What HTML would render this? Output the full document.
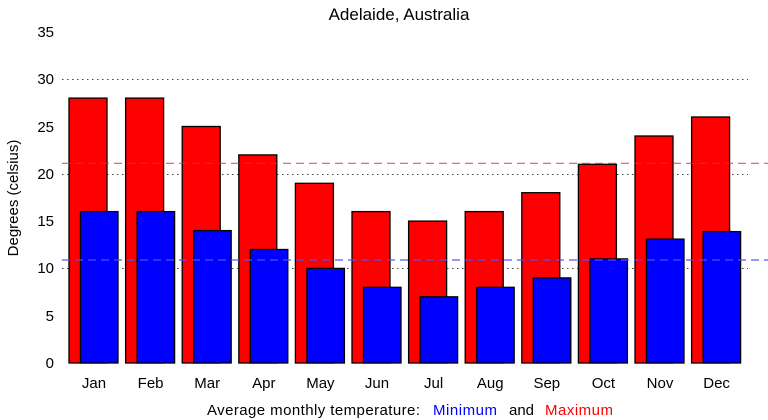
<!DOCTYPE html>
<html><head><style>body{margin:0;background:#fff}svg{display:block}text{font-family:"Liberation Sans",Arial,sans-serif;fill:#000}</style></head><body>
<svg width="768" height="420" xmlns="http://www.w3.org/2000/svg">
<text x="399" y="20" font-size="17" text-anchor="middle">Adelaide, Australia</text>
<g stroke="#444" stroke-width="1" stroke-dasharray="1.5,3.5">
<line x1="62" y1="79.5" x2="748" y2="79.5"/><line x1="62" y1="174.5" x2="748" y2="174.5"/><line x1="62" y1="268.5" x2="748" y2="268.5"/>
</g>
<g font-size="15" text-anchor="end">
<text x="54" y="368">0</text><text x="54" y="321">5</text><text x="54" y="273">10</text><text x="54" y="226">15</text><text x="54" y="179">20</text><text x="54" y="132">25</text><text x="54" y="84">30</text><text x="54" y="37">35</text>
</g>
<text transform="translate(18,198) rotate(-90)" font-size="15" text-anchor="middle">Degrees (celsius)</text>
<g stroke="#000" stroke-width="1.3">
<rect x="69" y="98.1" width="38" height="264.9" fill="#f00"/><rect x="80.5" y="211.6" width="37.5" height="151.4" fill="#00f"/>
<rect x="125.6" y="98.1" width="38" height="264.9" fill="#f00"/><rect x="137.1" y="211.6" width="37.5" height="151.4" fill="#00f"/>
<rect x="182.2" y="126.5" width="38" height="236.5" fill="#f00"/><rect x="193.7" y="230.6" width="37.5" height="132.4" fill="#00f"/>
<rect x="238.8" y="154.9" width="38" height="208.1" fill="#f00"/><rect x="250.3" y="249.5" width="37.5" height="113.5" fill="#00f"/>
<rect x="295.4" y="183.3" width="38" height="179.7" fill="#f00"/><rect x="306.9" y="268.4" width="37.5" height="94.6" fill="#00f"/>
<rect x="352" y="211.6" width="38" height="151.4" fill="#f00"/><rect x="363.5" y="287.3" width="37.5" height="75.7" fill="#00f"/>
<rect x="408.6" y="221.1" width="38" height="141.9" fill="#f00"/><rect x="420.1" y="296.8" width="37.5" height="66.2" fill="#00f"/>
<rect x="465.2" y="211.6" width="38" height="151.4" fill="#f00"/><rect x="476.7" y="287.3" width="37.5" height="75.7" fill="#00f"/>
<rect x="521.8" y="192.7" width="38" height="170.3" fill="#f00"/><rect x="533.3" y="277.9" width="37.5" height="85.1" fill="#00f"/>
<rect x="578.4" y="164.3" width="38" height="198.7" fill="#f00"/><rect x="589.9" y="258.9" width="37.5" height="104.1" fill="#00f"/>
<rect x="635" y="136" width="38" height="227" fill="#f00"/><rect x="646.5" y="239.1" width="37.5" height="123.9" fill="#00f"/>
<rect x="691.6" y="117" width="38" height="246" fill="#f00"/><rect x="703.1" y="231.6" width="37.5" height="131.4" fill="#00f"/>
</g>
<line x1="62" y1="163.3" x2="768" y2="163.3" stroke="#e03030" stroke-width="1.2" stroke-dasharray="8,5" opacity="0.8"/>
<line x1="62" y1="260" x2="768" y2="260" stroke="#5050ff" stroke-width="1.5" stroke-dasharray="8,5" opacity="0.8"/>
<g font-size="15" text-anchor="middle">
<text x="94" y="388">Jan</text><text x="150.6" y="388">Feb</text><text x="207.2" y="388">Mar</text><text x="263.8" y="388">Apr</text><text x="320.4" y="388">May</text><text x="377" y="388">Jun</text><text x="433.6" y="388">Jul</text><text x="490.2" y="388">Aug</text><text x="546.8" y="388">Sep</text><text x="603.4" y="388">Oct</text><text x="660" y="388">Nov</text><text x="716.6" y="388">Dec</text>
</g>
<g font-size="15">
<text x="207" y="415" textLength="213">Average monthly temperature:</text>
<text x="433" y="415" style="fill:#00f" textLength="64">Minimum</text>
<text x="509" y="415">and</text>
<text x="545" y="415" style="fill:#f00" textLength="68">Maximum</text>
</g>
</svg>
</body></html>
